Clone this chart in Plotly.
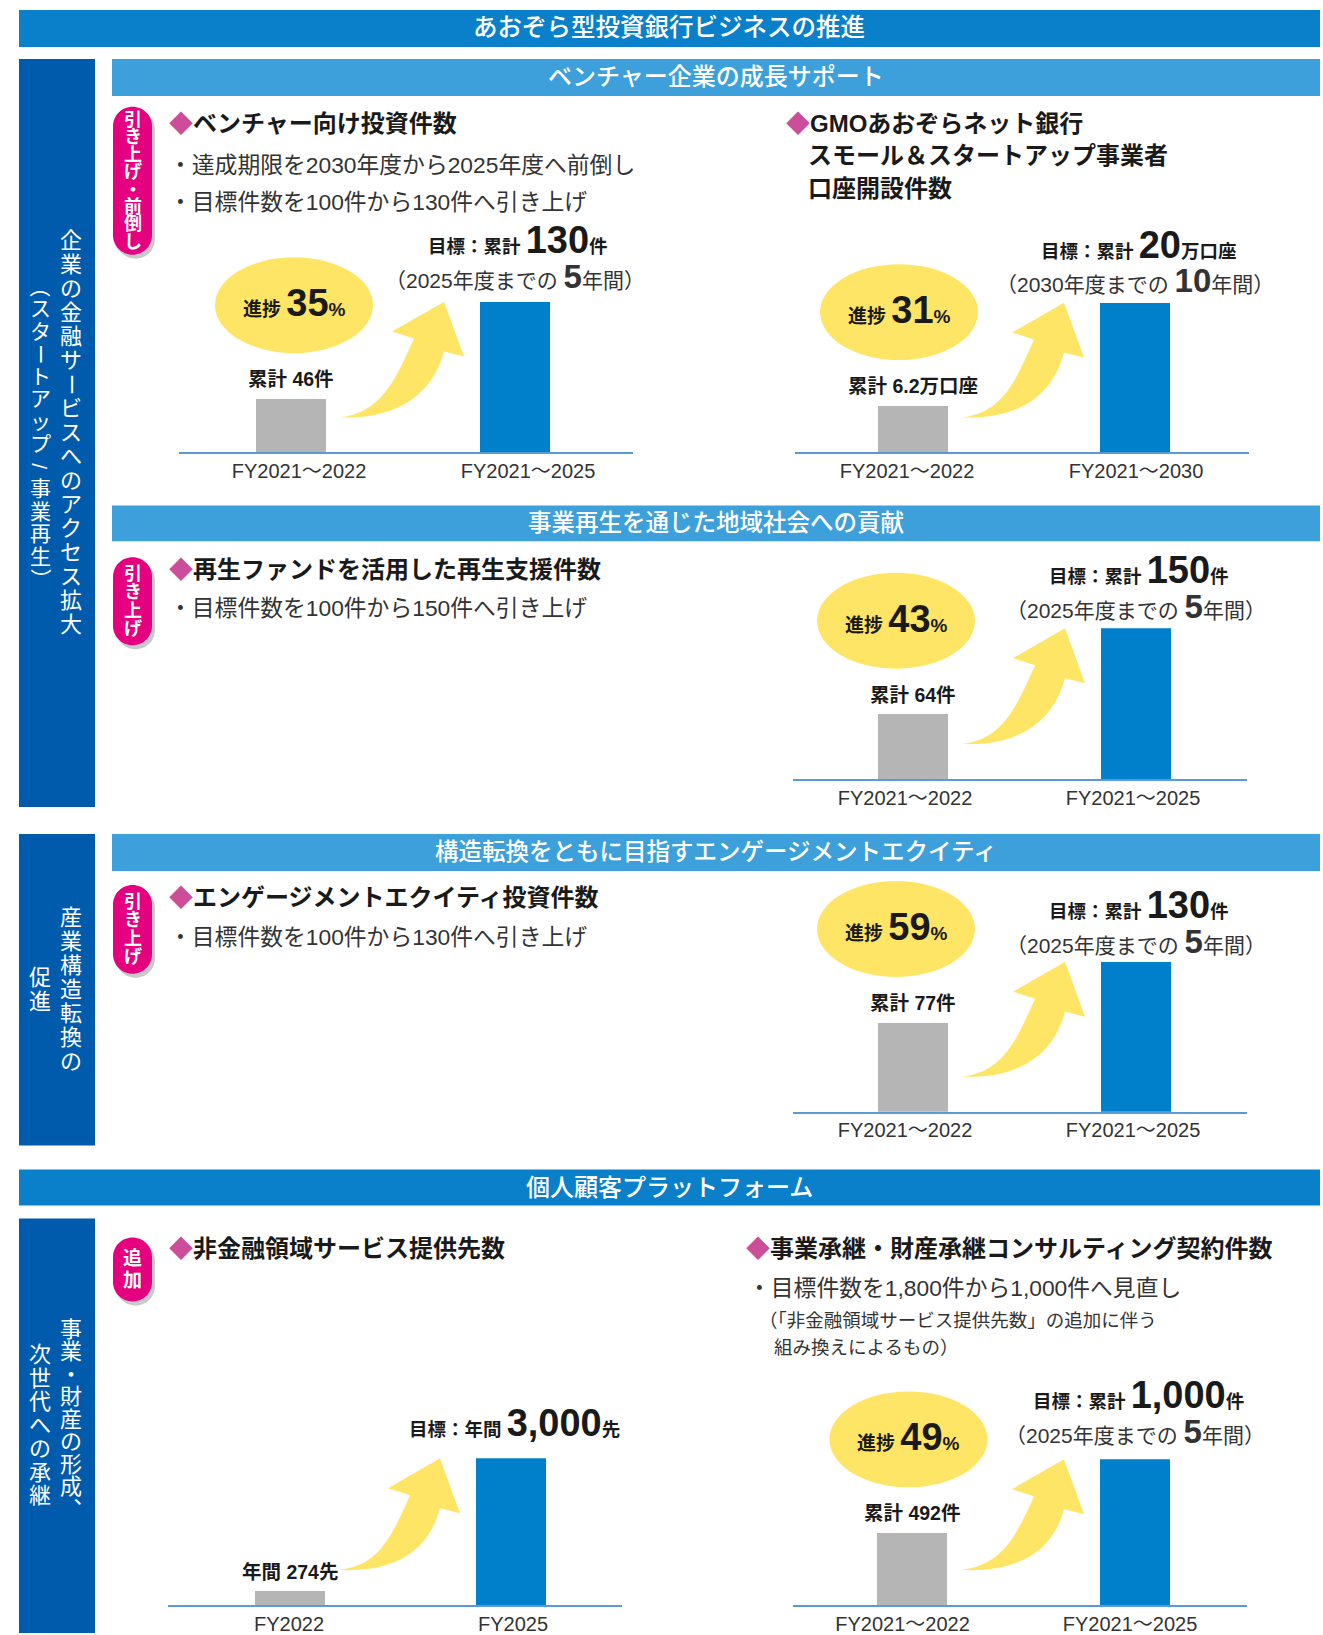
import plotly.graph_objects as go

W, H = 1323, 1635
FONT = "Liberation Sans, Noto Sans CJK JP, sans-serif"

# ---------------- data ----------------
chart_categories = [
    ["FY2021～2022", "FY2021～2025"],
    ["FY2021～2022", "FY2021～2030"],
    ["FY2021～2022", "FY2021～2025"],
    ["FY2021～2022", "FY2021～2025"],
    ["FY2022", "FY2025"],
    ["FY2021～2022", "FY2021～2025"],
]
current_values = [46, 6.2, 64, 77, 274, 492]
target_values = [130, 20, 150, 130, 3000, 1000]
progress_pct = [35, 31, 43, 59, None, 49]
current_prefix = ["累計", "累計", "累計", "累計", "年間", "累計"]
target_prefix = ["累計", "累計", "累計", "累計", "年間", "累計"]
value_units = ["件", "万口座", "件", "件", "先", "件"]
period_end = ["2025", "2030", "2025", "2025", None, "2025"]
period_years = ["5", "10", "5", "5", None, "5"]

# ---------------- layout geometry (px) ----------------
# ax0/ax1: axis extent, base: baseline y, top: target-bar top y,
# gc/bc: bar centres, lc: tick-label centres, edx: ellipse x shift, ts: label shifts
geom = [
    dict(ax0=179, ax1=633, base=453, top=302, gc=291, bc=515, lc=(299, 528), edx=3, ts=(62, 25)),
    dict(ax0=795, ax1=1249, base=453, top=303, gc=913, bc=1135, lc=(907, 1136), edx=-14, ts=(58, 22)),
    dict(ax0=793, ax1=1247, base=780, top=629, gc=913, bc=1136, lc=(905, 1133), edx=-17, ts=(58, 22)),
    dict(ax0=793, ax1=1247, base=1113, top=963, gc=913, bc=1136, lc=(905, 1133), edx=-17, ts=(57, 20)),
    dict(ax0=168, ax1=622, base=1607, top=1460, gc=289.5, bc=511, lc=(289, 513), edx=0, ts=(35, None)),
    dict(ax0=793, ax1=1247, base=1607, top=1461, gc=911.5, bc=1135, lc=(902.5, 1130), edx=-3, ts=(64, 28)),
]
BAR_W = 70

GRAY = "#B5B5B6"
BLUE = "#0080CB"
YEL = "#FFE566"
PINK = "#E4007F"
DIAMOND = "#CC4E9A"
HDR = "#0A80CA"
SUB = "#3DA0DA"
SIDE = "#005BAC"


def fx(x):
    return x / W


def fy(y):
    return 1 - y / H


def fmt(v):
    if isinstance(v, float) and not v.is_integer():
        return f"{v}"
    return f"{int(v):,}"


fig = go.Figure()
shapes = []
ann = []


def rect(x0, y0, x1, y1, color):
    shapes.append(dict(type="rect", xref="paper", yref="paper",
                       x0=fx(x0), x1=fx(x1), y0=fy(y1), y1=fy(y0),
                       fillcolor=color, line=dict(width=0)))


def text(x, y, s, size, color="#1a1a1a", xanchor="left", angle=0, weight=None):
    f = dict(family=FONT, size=size, color=color)
    if weight:
        f["weight"] = weight
    ann.append(dict(x=fx(x), y=fy(y), xref="paper", yref="paper", text=s,
                    showarrow=False, xanchor=xanchor, yanchor="middle",
                    textangle=angle, font=f))


def vtext(chars, cx, cy, pitch, size, color="white", bold=False):
    n = len(chars)
    y0 = cy - pitch * (n - 1) / 2
    for i, ch in enumerate(chars):
        ang = 0
        c = ch
        if ch in "ー（）/":
            ang = 90
        if ch == "、":
            c = "︑"
        s = f"<b>{c}</b>" if bold else c
        text(cx, y0 + i * pitch, s, size, color, xanchor="center", angle=ang)


def pill(x0, y0, x1, y1, color, dx=0, dy=0):
    x0 += dx; x1 += dx; y0 += dy; y1 += dy
    r = (x1 - x0) / 2
    cx = (x0 + x1) / 2
    k = 0.5523 * r
    p = (f"M {fx(x0)},{fy(y0 + r)} "
         f"C {fx(x0)},{fy(y0 + r - k)} {fx(cx - k)},{fy(y0)} {fx(cx)},{fy(y0)} "
         f"C {fx(cx + k)},{fy(y0)} {fx(x1)},{fy(y0 + r - k)} {fx(x1)},{fy(y0 + r)} "
         f"L {fx(x1)},{fy(y1 - r)} "
         f"C {fx(x1)},{fy(y1 - r + k)} {fx(cx + k)},{fy(y1)} {fx(cx)},{fy(y1)} "
         f"C {fx(cx - k)},{fy(y1)} {fx(x0)},{fy(y1 - r + k)} {fx(x0)},{fy(y1 - r)} Z")
    shapes.append(dict(type="path", xref="paper", yref="paper", path=p,
                       fillcolor=color, line=dict(width=0)))


def arrow(T, P):
    Tx, Ty = T
    Px, Py = P
    L = (Px - 52, Py + 30)
    R = (Px + 20, Py + 55)
    NL = (Px - 30, Py + 37)
    NR = (Px + 0, Py + 50)

    def q(pt):
        return f"{fx(pt[0])},{fy(pt[1])}"
    p = (f"M {q(T)} C {q((Tx + 40, Ty - 5))} {q((NL[0] - 20, NL[1] + 45))} {q(NL)} "
         f"L {q(L)} L {q(P)} L {q(R)} L {q(NR)} "
         f"C {q((NR[0] - 12, NR[1] + 45))} {q((Tx + 55, Ty + 2))} {q(T)} Z")
    shapes.append(dict(type="path", xref="paper", yref="paper", path=p,
                       fillcolor=YEL, line=dict(width=0)))


# ---------------- header bars ----------------
rect(19, 10, 1320, 47, HDR)
text(669, 28, "あおぞら型投資銀行ビジネスの推進", 24.5, "white", "center", weight=500)
rect(112, 59, 1320, 96, SUB)
text(716, 77, "ベンチャー企業の成長サポート", 24, "white", "center", weight=500)
rect(112, 506, 1320, 542, SUB)
text(716, 524, "事業再生を通じた地域社会への貢献", 23.5, "white", "center", weight=500)
rect(112, 835, 1320, 872, SUB)
text(716, 853, "構造転換をともに目指すエンゲージメントエクイティ", 23.5, "white", "center", weight=500)
rect(19, 1171, 1320, 1207, HDR)
text(669, 1189, "個人顧客プラットフォーム", 24, "white", "center", weight=500)

# side bars
rect(19, 59, 95, 808, SIDE)
rect(19, 835, 95, 1147, SIDE)
rect(19, 1220, 95, 1635, SIDE)
vtext("企業の金融サービスへのアクセス拡大", 71, 433, 24, 22)
vtext("（スタートアップ/事業再生）", 40, 433, 22.5, 21)
vtext("産業構造転換の", 71, 991, 24, 22)
vtext("促進", 40, 991, 24, 22)
vtext("事業・財産の形成、", 71, 1421, 22.5, 22)
vtext("次世代への承継", 40, 1427, 23.5, 22)

# badges
for (y0, y1, label, pitch, size) in [(107, 255, "引き上げ・前倒し", 17.5, 18),
                                     (558, 646, "引き上げ", 18.5, 18),
                                     (886, 975, "引き上げ", 18.5, 18),
                                     (1239, 1303, "追加", 22, 19)]:
    pill(113, y0, 152, y1, "rgba(60,60,60,0.28)", dx=3, dy=4)
    pill(113, y0, 152, y1, PINK)
    vtext(label, 132.5, (y0 + y1) / 2, pitch, size, "white", bold=True)

D = f"<span style='color:{DIAMOND}'>◆</span>"
# item titles & bullets
text(167, 124, D + "<b>ベンチャー向け投資件数</b>", 24)
text(167, 165, "・達成期限を2030年度から2025年度へ前倒し", 22.8, "#333")
text(167, 202, "・目標件数を100件から130件へ引き上げ", 22.8, "#333")
text(784, 124, D + "<b>GMOあおぞらネット銀行</b>", 24)
text(806, 156, "<b>スモール＆スタートアップ事業者</b>", 24)
text(806, 189, "<b>口座開設件数</b>", 24)
text(167, 570, D + "<b>再生ファンドを活用した再生支援件数</b>", 24)
text(167, 609, "・目標件数を100件から150件へ引き上げ", 22.8, "#333")
text(167, 899, D + "<b>エンゲージメントエクイティ投資件数</b>", 24)
text(167, 938, "・目標件数を100件から130件へ引き上げ", 22.8, "#333")
text(167, 1250, D + "<b>非金融領域サービス提供先数</b>", 24)
text(744, 1250, D + "<b>事業承継・財産承継コンサルティング契約件数</b>", 24)
text(746, 1290, "・目標件数を1,800件から1,000件へ見直し", 22.8, "#333")
text(757, 1322, "（「非金融領域サービス提供先数」の追加に伴う", 18.5, "#333")
text(772, 1349, "組み換えによるもの）", 18.5, "#333")

# ---------------- charts ----------------
for i, g in enumerate(geom):
    k = "" if i == 0 else str(i + 1)
    cats = chart_categories[i]
    cur, tgt = current_values[i], target_values[i]
    lc0, lc1 = g["lc"]
    step = lc1 - lc0
    r0 = -(lc0 - g["ax0"]) / step
    r1 = r0 + (g["ax1"] - g["ax0"]) / step
    w = BAR_W / step
    offs = [(g["gc"] - lc0) / step - w / 2, (g["bc"] - lc1) / step - w / 2]
    fig.add_trace(go.Bar(
        x=cats, y=[cur, tgt], xaxis="x" + k, yaxis="y" + k,
        marker=dict(color=[GRAY, BLUE], line=dict(width=0)),
        width=[w, w], offset=offs, showlegend=False, hoverinfo="skip"))
    fig.layout["xaxis" + k] = dict(
        domain=[fx(g["ax0"]), fx(g["ax1"])], anchor="y" + k, type="category",
        categoryorder="array", categoryarray=cats, range=[r0, r1],
        showline=True, linecolor="#5B9BD5", linewidth=1.5, ticks="",
        showgrid=False, zeroline=False, fixedrange=True,
        tickfont=dict(family=FONT, size=20, color="#333"))
    fig.layout["yaxis" + k] = dict(
        domain=[fy(g["base"]), fy(g["top"])], anchor="x" + k, range=[0, tgt],
        visible=False, fixedrange=True)

    gshift = g["gc"] - lc0
    bshift = g["bc"] - lc1
    # current value label
    ann.append(dict(x=cats[0], y=cur, xref="x" + k, yref="y" + k, showarrow=False,
                    yanchor="middle", yshift=20, xshift=gshift,
                    text=f"<b>{current_prefix[i]} {fmt(cur)}{value_units[i]}</b>",
                    font=dict(family=FONT, size=19.5, color="#1a1a1a")))
    # target labels
    ann.append(dict(x=cats[1], y=tgt, xref="x" + k, yref="y" + k, showarrow=False,
                    yanchor="middle", yshift=g["ts"][0], xshift=bshift + 3,
                    text=(f"<b>目標：{target_prefix[i]} <span style='font-size:38px'>"
                          f"{fmt(tgt)}</span>{value_units[i]}</b>"),
                    font=dict(family=FONT, size=18.5, color="#1a1a1a")))
    if period_end[i]:
        ann.append(dict(x=cats[1], y=tgt, xref="x" + k, yref="y" + k, showarrow=False,
                        yanchor="middle", yshift=g["ts"][1], xshift=bshift,
                        text=(f"（{period_end[i]}年度までの <b><span style='font-size:33px'>"
                              f"{period_years[i]}</span></b>年間）"),
                        font=dict(family=FONT, size=21, color="#333")))

    # progress ellipse
    gray_top = g["base"] - cur / tgt * (g["base"] - g["top"])
    if progress_pct[i] is not None:
        ecx, ecy = g["gc"] + g["edx"], gray_top - 94
        shapes.append(dict(type="circle", xref="paper", yref="paper",
                           x0=fx(ecx - 79), x1=fx(ecx + 79),
                           y0=fy(ecy + 48), y1=fy(ecy - 48),
                           fillcolor=YEL, line=dict(width=0)))
        text(ecx, ecy - 2, f"<b>進捗 <span style='font-size:38px'>{progress_pct[i]}</span>%</b>",
             19, "#1a1a1a", "center")

    # growth arrow
    arrow((g["gc"] + BAR_W / 2 + 14, g["base"] - 35), (g["bc"] - BAR_W / 2 - 36, g["top"]))

fig.update_layout(
    width=W, height=H, margin=dict(l=0, r=0, t=0, b=0),
    paper_bgcolor="white", plot_bgcolor="rgba(0,0,0,0)",
    shapes=shapes, annotations=ann, bargap=0,
    font=dict(family=FONT),
)

fig.write_html("out.html", config={"displayModeBar": False},
               post_script="document.body.style.margin='0px';"
                           "document.body.style.overflow='hidden';")
